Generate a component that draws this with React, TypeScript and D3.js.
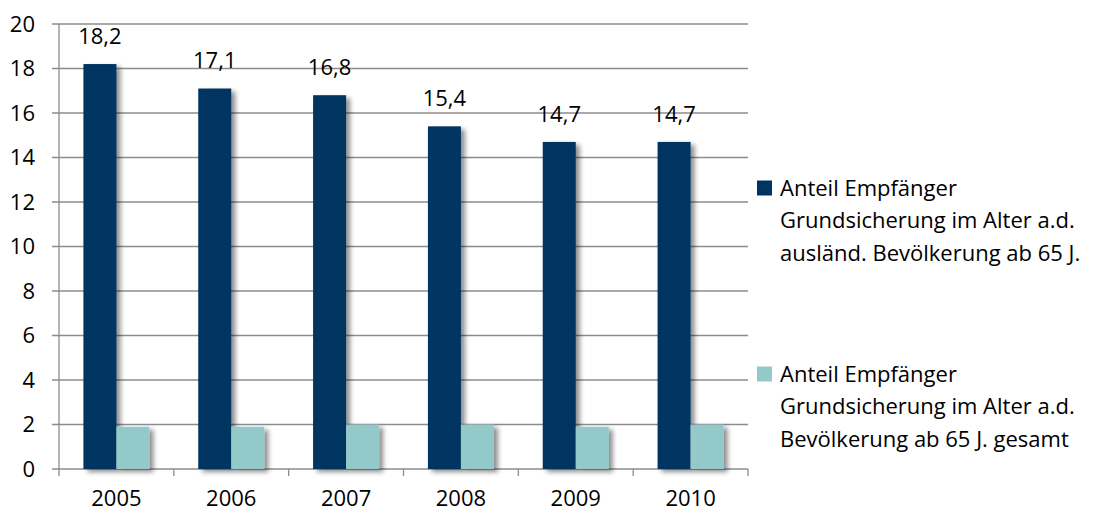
import React from "react";
import * as d3 from "d3";

const categories = ["2005", "2006", "2007", "2008", "2009", "2010"];
const seriesForeign = [18.2, 17.1, 16.8, 15.4, 14.7, 14.7];
const seriesTotal = [1.9, 1.9, 2.0, 2.0, 1.9, 2.0];
const yTicks = [0, 2, 4, 6, 8, 10, 12, 14, 16, 18, 20];
const legendForeign = ["Anteil Empfänger", "Grundsicherung im Alter a.d.", "ausländ. Bevölkerung ab 65 J."];
const legendTotal = ["Anteil Empfänger", "Grundsicherung im Alter a.d.", "Bevölkerung ab 65 J. gesamt"];

const DARK = "#003462";
const LIGHT = "#93c9c8";
const GRID = "#8c8c8c";
const FONT = "'Open Sans', sans-serif";
const FS = 22;

export default function App() {
  const W = 1098, H = 513;
  const left = 59, right = 748, top = 24, bottom = 469;
  const x = d3.scaleBand<string>().domain(categories).range([left, right]);
  const y = d3.scaleLinear().domain([0, 20]).range([bottom, top]);
  const bw = 33;
  const fmt = (v: number) => v.toFixed(1).replace(".", ",");

  return (
    <svg width={W} height={H} style={{ position: "absolute", left: 0, top: 0 }}>
      <defs>
        <filter id="sh" x="-30%" y="-10%" width="180%" height="130%">
          <feGaussianBlur in="SourceAlpha" stdDeviation="2.5" />
          <feOffset dx="4" dy="3" result="b" />
          <feComponentTransfer><feFuncA type="linear" slope="0.45" /></feComponentTransfer>
          <feMerge><feMergeNode /><feMergeNode in="SourceGraphic" /></feMerge>
        </filter>
      </defs>
      <rect width={W} height={H} fill="#fff" />
      {yTicks.map((t) => (
        <g key={t}>
          <line x1={52} x2={right} y1={y(t)} y2={y(t)} stroke={GRID} strokeWidth={1.3} />
          <text x={35} y={y(t)} dy="0.35em" textAnchor="end" fontFamily={FONT} fontSize={FS} fill="#000">{t}</text>
        </g>
      ))}
      <line x1={left} x2={left} y1={top} y2={bottom + 7} stroke={GRID} strokeWidth={1.3} />
      {categories.map((c) => (
        <line key={c} x1={x(c)! + x.bandwidth()} x2={x(c)! + x.bandwidth()} y1={bottom} y2={bottom + 7} stroke={GRID} strokeWidth={1.3} />
      ))}
      {categories.map((c, i) => {
        const cx = x(c)! + x.bandwidth() / 2;
        return (
          <g key={c}>
            <rect x={cx - bw} y={y(seriesForeign[i])} width={bw} height={bottom - y(seriesForeign[i])} fill={DARK} filter="url(#sh)" />
            <rect x={cx} y={y(seriesTotal[i])} width={bw} height={bottom - y(seriesTotal[i])} fill={LIGHT} filter="url(#sh)" />
            <text x={cx - bw / 2} y={y(seriesForeign[i]) - 28} dy="0.35em" textAnchor="middle" fontFamily={FONT} fontSize={FS} fill="#000">{fmt(seriesForeign[i])}</text>
            <text x={cx} y={498} dy="0.35em" textAnchor="middle" fontFamily={FONT} fontSize={FS} fill="#000">{c}</text>
          </g>
        );
      })}
      {[{ color: DARK, lines: legendForeign, y0: 188 }, { color: LIGHT, lines: legendTotal, y0: 374 }].map((l) => (
        <g key={l.y0}>
          <rect x={757} y={l.y0 - 7.5} width={15} height={15} fill={l.color} />
          {l.lines.map((s, k) => (
            <text key={k} x={780} y={l.y0 + k * 32.5} dy="0.35em" fontFamily={FONT} fontSize={FS} fill="#000">{s}</text>
          ))}
        </g>
      ))}
    </svg>
  );
}
